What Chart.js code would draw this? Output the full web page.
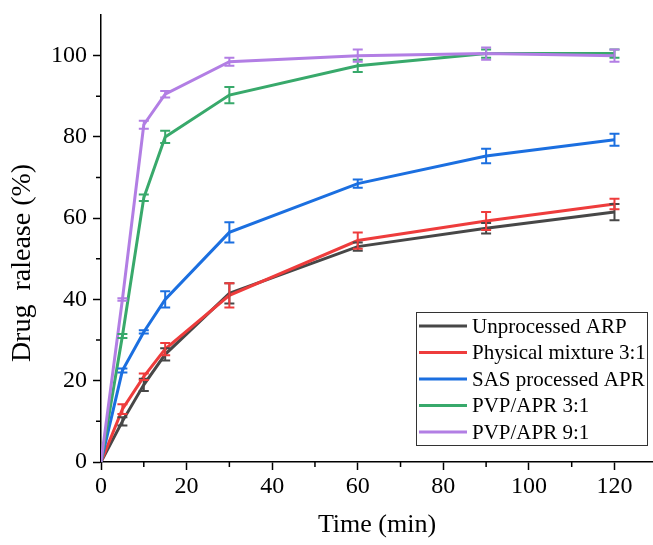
<!DOCTYPE html>
<html>
<head>
<meta charset="utf-8">
<script src="https://cdn.jsdelivr.net/npm/chart.js@4"></script>
<style>
  body { margin: 0; background: #fff; }
  #wrap { width: 653px; height: 545px; position: relative; }
</style>
</head>
<body>
<div id="wrap"><canvas id="myChart"></canvas></div>
<script>
const times = [0, 5, 10, 15, 30, 60, 90, 120];
const seriesNames = ['Unprocessed ARP', 'Physical mixture 3:1', 'SAS processed APR', 'PVP/APR 3:1', 'PVP/APR 9:1'];
const unprocessed = [0, 10, 19, 26.5, 41.5, 53, 57.5, 61.5];
const unprocessedErr = [0, 1, 1.5, 1.5, 2.5, 1, 1.3, 2];
const physical = [0, 13, 21, 27.8, 41, 54.5, 59.3, 63.5];
const physicalErr = [0, 1.2, 0.8, 1.5, 3, 2, 2.2, 1.3];
const sas = [0, 22.5, 32, 40, 56.5, 68.5, 75.3, 79.3];
const sasErr = [0, 0.5, 0.4, 2, 2.5, 1, 1.8, 1.5];
const pvp31 = [0, 31, 65, 80, 90.3, 97.5, 100.5, 100.5];
const pvp31Err = [0, 0.5, 0.8, 1.5, 2, 1.5, 1, 1];
const pvp91 = [0, 40, 83, 90.5, 98.5, 100, 100.5, 100];
const pvp91Err = [0, 0.3, 1, 0.8, 1, 1.5, 1.5, 1.5];
const xMinorTicks = [10, 30, 50, 70, 90, 110];
const yMinorTicks = [10, 30, 50, 70, 90];

const colors = ['#474747', '#ee3c3c', '#1b6fe0', '#38a96b', '#b27ee4'];
const values = [unprocessed, physical, sas, pvp31, pvp91];
const errors = [unprocessedErr, physicalErr, sasErr, pvp31Err, pvp91Err];

const serif = "'Liberation Serif', 'Times New Roman', serif";

const errorBars = {
  id: 'errorBars',
  afterDatasetsDraw(chart) {
    const ctx = chart.ctx;
    const x = chart.scales.x, y = chart.scales.y;
    [0, 1, 2, 3, 4].forEach(i => {
      const ds = chart.data.datasets[i];
      ctx.save();
      ctx.strokeStyle = ds.borderColor;
      ctx.lineWidth = 2;
      ds.data.forEach((p, j) => {
        const e = errors[i][j];
        if (!e) return;
        const px = x.getPixelForValue(p.x);
        const top = y.getPixelForValue(p.y + e);
        const bot = y.getPixelForValue(p.y - e);
        ctx.beginPath();
        ctx.moveTo(px, top); ctx.lineTo(px, bot);
        ctx.moveTo(px - 5, top); ctx.lineTo(px + 5, top);
        ctx.moveTo(px - 5, bot); ctx.lineTo(px + 5, bot);
        ctx.stroke();
      });
      ctx.restore();
    });
  }
};

// minor ticks, y title and the boxed legend
const extras = {
  id: 'extras',
  afterDraw(chart) {
    const ctx = chart.ctx;
    const x = chart.scales.x, y = chart.scales.y;
    const area = chart.chartArea;
    ctx.save();
    ctx.strokeStyle = '#000';
    ctx.lineWidth = 1.5;
    ctx.beginPath();
    xMinorTicks.forEach(v => {
      const px = x.getPixelForValue(v);
      ctx.moveTo(px, area.bottom); ctx.lineTo(px, area.bottom + 5);
    });
    yMinorTicks.forEach(v => {
      const py = y.getPixelForValue(v);
      ctx.moveTo(area.left, py); ctx.lineTo(area.left - 5, py);
    });
    ctx.stroke();

    // y title
    ctx.translate(23, 263);
    ctx.rotate(-Math.PI / 2);
    ctx.fillStyle = '#000';
    ctx.font = '28px ' + serif;
    ctx.textAlign = 'center';
    ctx.textBaseline = 'middle';
    ctx.fillText('Drug  ralease (%)', 0, 0);
    ctx.restore();

    // legend
    const left = 416, top = 312, w = 231, h = 133;
    ctx.save();
    ctx.fillStyle = '#fff';
    ctx.fillRect(left, top, w, h);
    ctx.strokeStyle = '#333';
    ctx.lineWidth = 1;
    ctx.strokeRect(left + 0.5, top + 0.5, w, h);
    ctx.font = '21px ' + serif;
    ctx.textBaseline = 'middle';
    seriesNames.forEach((name, i) => {
      const cy = top + 14 + i * 26.5;
      ctx.strokeStyle = colors[i];
      ctx.lineWidth = 3;
      ctx.beginPath();
      ctx.moveTo(left + 3, cy); ctx.lineTo(left + 51, cy);
      ctx.stroke();
      ctx.fillStyle = '#000';
      ctx.fillText(name, left + 56, cy + 1);
    });
    ctx.restore();
  }
};

const ctx = document.getElementById('myChart').getContext('2d');
new Chart(ctx, {
  type: 'line',
  data: {
    datasets: seriesNames.map((name, i) => ({
      label: name,
      data: times.map((t, j) => ({ x: t, y: values[i][j] })),
      borderColor: colors[i],
      backgroundColor: colors[i],
      borderWidth: 3,
      pointRadius: 0,
      tension: 0,
      order: 5 - i
    }))
  },
  options: {
    responsive: true,
    maintainAspectRatio: false,
    animation: false,
    layout: { padding: { top: 15, right: 0, left: 0, bottom: 0 } },
    plugins: {
      legend: { display: false },
      tooltip: { enabled: false }
    },
    scales: {
      x: {
        type: 'linear',
        min: 0,
        max: 129,
        afterFit: s => { s.height = 83; s.paddingLeft = 0; s.paddingRight = 0; },
        border: { display: true, color: '#000', width: 1.5 },
        grid: { drawOnChartArea: false, tickLength: 8, color: '#000', tickWidth: 1.5 },
        ticks: {
          stepSize: 20,
          includeBounds: false,
          color: '#000',
          font: { family: serif, size: 24 },
          padding: 2,
          maxRotation: 0,
          autoSkip: false
        },
        title: {
          display: true,
          text: 'Time (min)',
          color: '#000',
          font: { family: serif, size: 26 },
          padding: { top: 8 }
        }
      },
      y: {
        min: 0,
        max: 110,
        afterFit: s => { s.width = 101; s.paddingTop = 0; s.paddingBottom = 0; },
        border: { display: true, color: '#000', width: 1.5 },
        grid: { drawOnChartArea: false, tickLength: 8, color: '#000', tickWidth: 1.5 },
        ticks: {
          stepSize: 20,
          includeBounds: false,
          color: '#000',
          font: { family: serif, size: 24 },
          padding: 6,
          autoSkip: false
        }
      }
    }
  },
  plugins: [errorBars, extras]
});
</script>
</body>
</html>
